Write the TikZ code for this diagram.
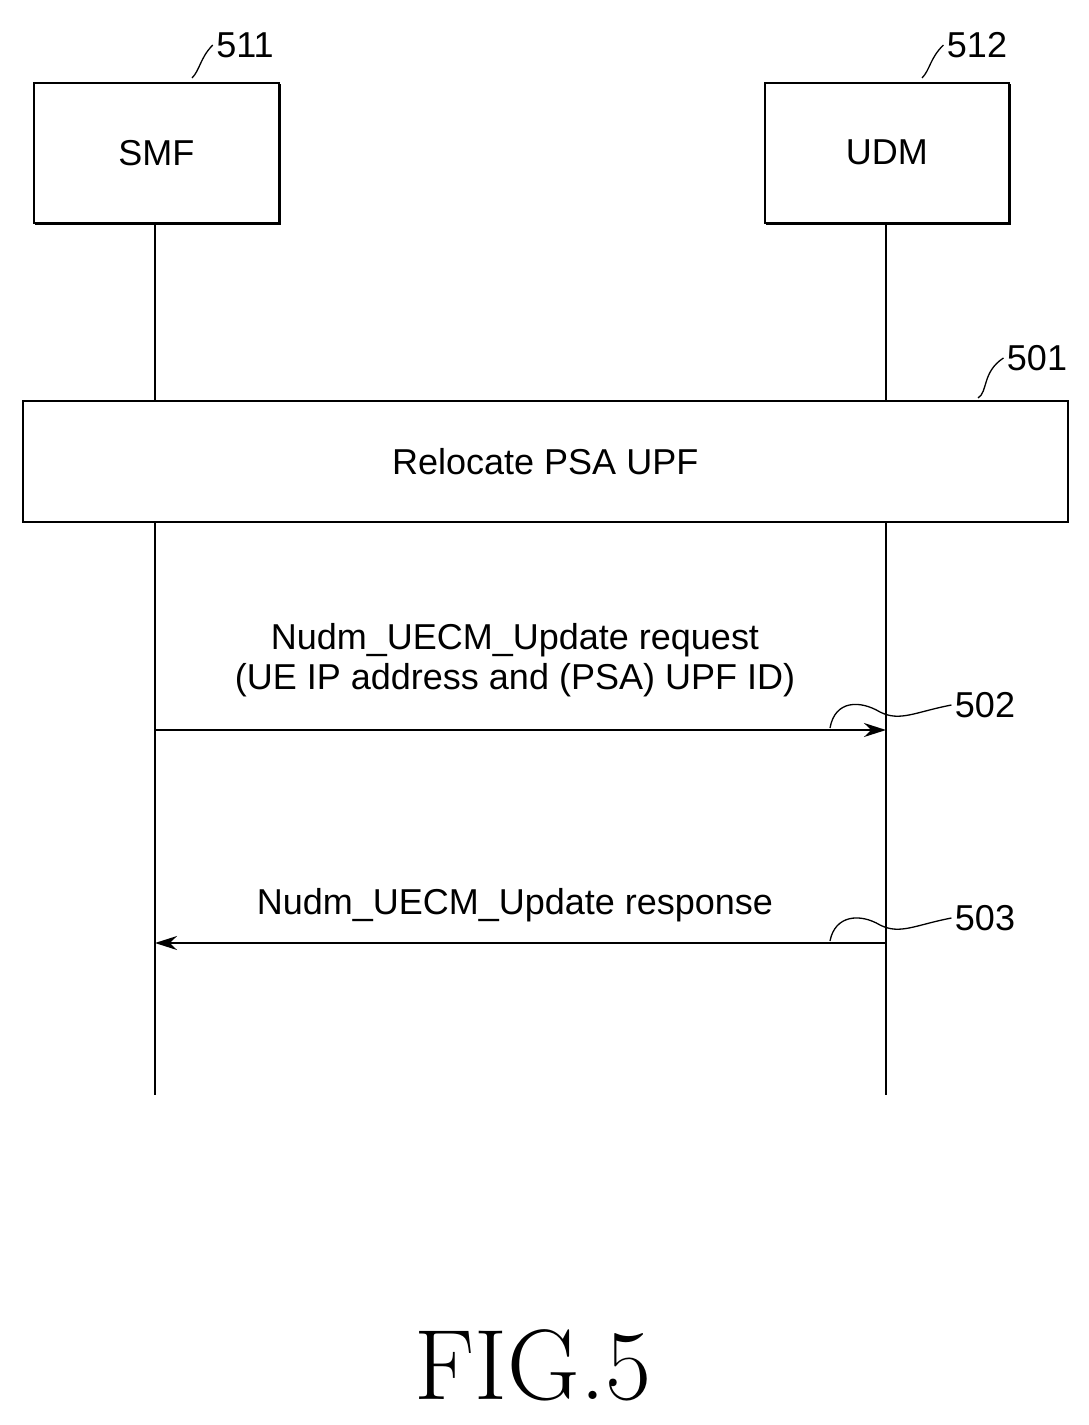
\documentclass[tikz,border=0pt]{standalone}
\usepackage{fontspec}
\setmainfont{Liberation Sans}
\begin{document}
\begin{tikzpicture}[x=1pt,y=-1pt,
 box/.style={draw,line width=1.5pt,inner sep=0,anchor=north west},
 life/.style={line width=1.5pt},
 msg/.style={line width=1.8pt,-{Stealth[length=22pt,width=14pt]}},
 lbl/.style={font=\fontsize{36}{40}\selectfont},
 num/.style={font=\fontsize{36}{40}\selectfont},
 lead/.style={line width=1.3pt}]
\useasboundingbox (0,0) rectangle (1089,1425);
\usetikzlibrary{arrows.meta}
\node[box,minimum width=245pt,minimum height=140pt,lbl] (smf) at (33,82) {SMF};
\node[box,minimum width=244pt,minimum height=140pt,lbl] (udm) at (764,82) {UDM};
\draw[line width=3pt] (279,84)--(279,223)--(35,223);
\draw[line width=3pt] (1009,84)--(1009,223)--(766,223);
\coordinate (s0) at (155,222); \coordinate (s1) at (155,1095);
\coordinate (u0) at (886,222); \coordinate (u1) at (886,1095);
\draw[life] (s0)--(s1); \draw[life] (u0)--(u1);
\node[box,fill=white,minimum width=1045pt,minimum height=121pt,lbl] (reloc) at (22,400) {Relocate PSA UPF};
\node[num] (n511) at (245,45) {511};
\node[num] (n512) at (977,45) {512};
\node[num] (n501) at (1037,358) {501};
\draw[lead] (192,78) .. controls (200,70) and (200,58) .. (n511.west);
\draw[lead] (922,78) .. controls (930,70) and (930,58) .. (n512.west);
\draw[lead] (978,398) .. controls (988,392) and (982,372) .. (n501.west);
\coordinate (a0) at (155,730); \coordinate (a1) at (886,730);
\coordinate (b0) at (886,943); \coordinate (b1) at (155,943);
\draw[msg] (a0)--(a1);
\draw[msg] (b0)--(b1);
\node[lbl,align=center] (t502) at (515,660) {Nudm\_UECM\_Update request\\(UE IP address and (PSA) UPF ID)};
\node[lbl] (t503) at (515,905) {Nudm\_UECM\_Update response};
\node[num] (n502) at (985,705) {502};
\node[num] (n503) at (985,918) {503};
\draw[lead] (830,728) .. controls (835,700) and (860,700) .. (880,712) .. controls (900,722) and (915,712) .. (n502.west);
\draw[lead] (830,941) .. controls (835,915) and (860,913) .. (880,925) .. controls (900,935) and (915,925) .. (n503.west);
\node[font=\fontspec{Latin Modern Roman}\fontsize{100}{110}\selectfont] (fig) at (533,1365) {FIG.5};
\end{tikzpicture}
\end{document}
